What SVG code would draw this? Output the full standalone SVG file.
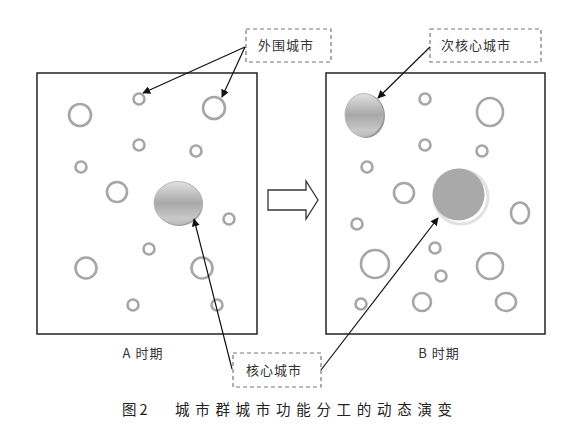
<svg xmlns="http://www.w3.org/2000/svg" width="573" height="426" viewBox="0 0 573 426">
<style>
.frame{fill:none;stroke:#222;stroke-width:1.5}
.c{fill:none;stroke:#a6a6a6;stroke-width:2.6}
.lbl{fill:#fff;stroke:#777;stroke-width:1.2;stroke-dasharray:4 3}
.t{font-family:"Noto Sans CJK SC","Liberation Serif",serif;font-size:13px;fill:#333;letter-spacing:1px}
.cap{font-family:"Noto Sans CJK SC","Liberation Serif",sans-serif;font-size:14.5px;fill:#222}
.con{stroke:#111;stroke-width:1.2;fill:none;marker-end:url(#ah)}
</style>
<defs>
<marker id="ah" viewBox="0 0 10 10" refX="9" refY="5" markerWidth="8" markerHeight="8" markerUnits="userSpaceOnUse" orient="auto">
<path d="M0,0 L10,5 L0,10 z" fill="#111"/>
</marker>
<linearGradient id="metal" x1="0" y1="0" x2="0" y2="1">
<stop offset="0" stop-color="#e2e2e2"/>
<stop offset="0.5" stop-color="#a8a8a8"/>
<stop offset="0.85" stop-color="#c8c8c8"/>
<stop offset="1" stop-color="#bdbdbd"/>
</linearGradient>
</defs>
<rect width="573" height="426" fill="#fff"/>

<g id="panelA">
<rect class="frame" x="37" y="73" width="220" height="261"/>
<circle class="c" cx="80" cy="115" r="11"/>
<circle class="c" cx="139" cy="99" r="5.5"/>
<circle class="c" cx="214" cy="108" r="11"/>
<circle class="c" cx="139" cy="145" r="5.5"/>
<circle class="c" cx="196" cy="151" r="5.5"/>
<circle class="c" cx="81" cy="167" r="5.5"/>
<circle class="c" cx="117" cy="192" r="10"/>
<circle class="c" cx="229" cy="219" r="5.5"/>
<circle class="c" cx="149" cy="249" r="5.5"/>
<circle class="c" cx="86" cy="268" r="10.5"/>
<circle class="c" cx="202" cy="268" r="10.5"/>
<circle class="c" cx="133" cy="305" r="5.5"/>
<circle class="c" cx="217" cy="305" r="5.5"/>
<text class="t" x="143" y="358" text-anchor="middle">A 时期</text>
</g>
<g id="coreA">
<ellipse cx="179" cy="204" rx="24" ry="22" fill="#999"/>
<ellipse cx="178" cy="203" rx="24" ry="21.5" fill="url(#metal)" stroke="#b8b8b8" stroke-width="1"/>
</g>

<g id="shift-arrow">
<polygon points="268,190 306,190 306,181 318,200 306,219 306,210 268,210" fill="#fff" stroke="#333" stroke-width="1.3"/>
</g>

<g id="panelB">
<rect class="frame" x="326" y="73" width="219" height="261"/>
<circle class="c" cx="425" cy="99" r="5.5"/>
<ellipse class="c" cx="490" cy="112" rx="13" ry="14"/>
<circle class="c" cx="425" cy="145" r="5.5"/>
<circle class="c" cx="482" cy="151" r="5.5"/>
<circle class="c" cx="367" cy="167" r="5.5"/>
<circle class="c" cx="404" cy="193" r="10"/>
<ellipse class="c" cx="520" cy="213" rx="9" ry="10.5"/>
<circle class="c" cx="357" cy="224" r="5.5"/>
<circle class="c" cx="435" cy="248" r="5.5"/>
<circle class="c" cx="375" cy="264" r="14"/>
<circle class="c" cx="490" cy="266" r="13"/>
<circle class="c" cx="441" cy="276" r="5.5"/>
<circle class="c" cx="361" cy="304" r="5.5"/>
<circle class="c" cx="422" cy="302" r="9"/>
<ellipse class="c" cx="506" cy="302" rx="10" ry="9"/>
<text class="t" x="439" y="358" text-anchor="middle">B 时期</text>
</g>
<g id="subcoreB">
<ellipse cx="366" cy="116" rx="19" ry="22" fill="#999"/>
<ellipse cx="364" cy="115" rx="19" ry="21.5" fill="url(#metal)" stroke="#b8b8b8" stroke-width="1"/>
</g>
<g id="coreB">
<circle cx="461" cy="197" r="27" fill="none" stroke="#e2e2e2" stroke-width="3"/>
<circle cx="458.5" cy="194.5" r="26" fill="#a9a9a9"/>
</g>

<g id="label-periphery">
<rect class="lbl" x="246" y="29" width="85" height="33"/>
<text class="t" x="258" y="50">外围城市</text>
</g>
<g id="label-subcore">
<rect class="lbl" x="430" y="29" width="111" height="33"/>
<text class="t" x="441" y="50">次核心城市</text>
</g>
<g id="label-core">
<rect class="lbl" x="233" y="353" width="88" height="34"/>
<text class="t" x="246" y="375">核心城市</text>
</g>

<g id="connectors">
<line class="con" x1="245" y1="47" x2="143" y2="93"/>
<line class="con" x1="245" y1="47" x2="222" y2="97"/>
<line class="con" x1="430" y1="47" x2="378" y2="98"/>
<line class="con" x1="232" y1="369" x2="194" y2="219"/>
<line class="con" x1="321" y1="370" x2="438" y2="218"/>
</g>

<g id="caption">
<text class="cap" x="122" y="415" letter-spacing="3">图2</text>
<text class="cap" x="175" y="415" letter-spacing="5.7">城市群城市功能分工的动态演变</text>
</g>
</svg>
